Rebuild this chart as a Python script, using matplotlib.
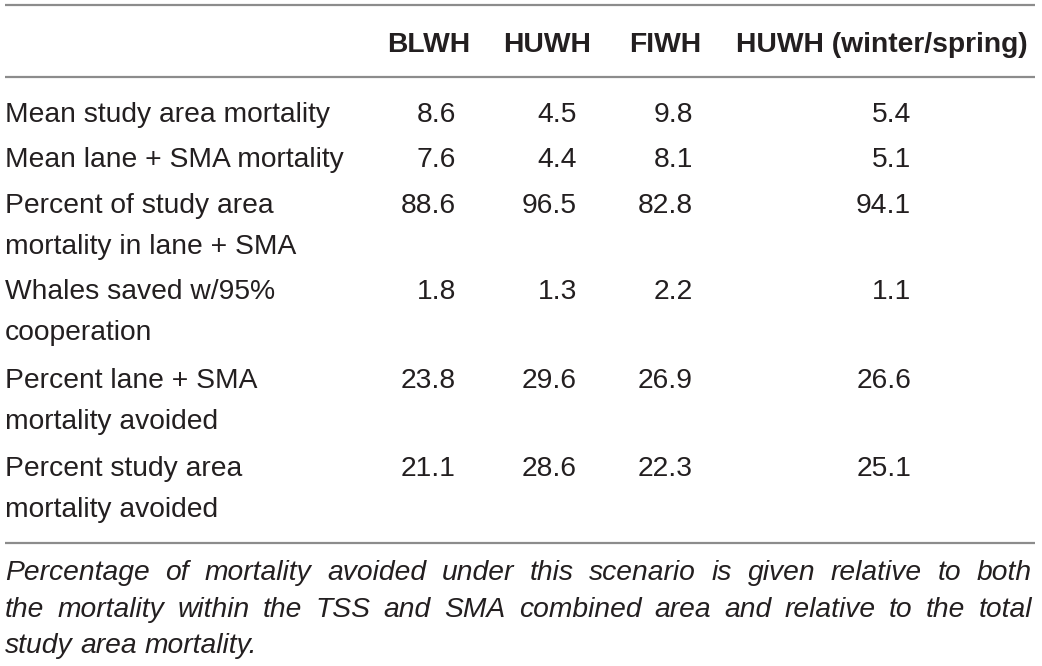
import matplotlib
matplotlib.use("Agg")
import matplotlib.pyplot as plt

# Table content
columns = ["BLWH", "HUWH", "FIWH", "HUWH (winter/spring)"]
row_labels = [
    ["Mean study area mortality"],
    ["Mean lane + SMA mortality"],
    ["Percent of study area", "mortality in lane + SMA"],
    ["Whales saved w/95%", "cooperation"],
    ["Percent lane + SMA", "mortality avoided"],
    ["Percent study area", "mortality avoided"],
]
blwh = [8.6, 7.6, 88.6, 1.8, 23.8, 21.1]
huwh = [4.5, 4.4, 96.5, 1.3, 29.6, 28.6]
fiwh = [9.8, 8.1, 82.8, 2.2, 26.9, 22.3]
huwh_ws = [5.4, 5.1, 94.1, 1.1, 26.6, 25.1]
footnote_lines = [
    "Percentage of mortality avoided under this scenario is given relative to both",
    "the mortality within the TSS and SMA combined area and relative to the total",
    "study area mortality.",
]

W, H = 1042, 666
fig = plt.figure(figsize=(W / 100, H / 100), dpi=100)
ax = fig.add_axes([0, 0, 1, 1])
ax.set_xlim(0, W)
ax.set_ylim(H, 0)
ax.axis("off")

font = "Liberation Sans"
txt_color = "#231f20"
rule_color = "#8c8c8c"
fs = 20.3
fs_foot = 20.3

# horizontal rules
for y in [5, 77, 543]:
    ax.plot([5, 1035], [y, y], color=rule_color, lw=1.6, solid_capstyle="butt")

# header
header_left = [387, 503, 629, 736]
for name, x in zip(columns, header_left):
    ax.text(x, 52, name, fontsize=fs, fontweight="bold", family=font,
            color=txt_color, va="baseline", ha="left")

# body
row_base = [122, 167, 213, 299, 388, 476]
line_gap = 41
num_right = [456, 577, 693, 911]
series = [blwh, huwh, fiwh, huwh_ws]
for i, lines in enumerate(row_labels):
    for j, line in enumerate(lines):
        ax.text(5, row_base[i] + j * line_gap, line, fontsize=fs, family=font,
                color=txt_color, va="baseline", ha="left")
    for vals, xr in zip(series, num_right):
        ax.text(xr, row_base[i], f"{vals[i]:.1f}", fontsize=fs, family=font,
                color=txt_color, va="baseline", ha="right")

# footnote, justified like the source
fig.canvas.draw()
renderer = fig.canvas.get_renderer()
inv = ax.transData.inverted()


def word_width(w):
    t = ax.text(0, 0, w, fontsize=fs_foot, family=font, style="italic")
    bb = t.get_window_extent(renderer)
    t.remove()
    x0 = inv.transform((bb.x0, 0))[0]
    x1 = inv.transform((bb.x1, 0))[0]
    return x1 - x0


x_left, x_right = 5, 1032
foot_base = [580, 617, 653]
space = word_width("a b") - word_width("a") - word_width("b")

for k, text in enumerate(footnote_lines):
    line = text.split()
    widths = [word_width(w) for w in line]
    if k < len(footnote_lines) - 1 and len(line) > 1:
        gap = (x_right - x_left - sum(widths)) / (len(line) - 1)
    else:
        gap = space
    x = x_left
    for w, ww in zip(line, widths):
        ax.text(x, foot_base[k], w, fontsize=fs_foot, family=font, style="italic",
                color=txt_color, va="baseline", ha="left")
        x += ww + gap

fig.savefig("out.png", dpi=100)
